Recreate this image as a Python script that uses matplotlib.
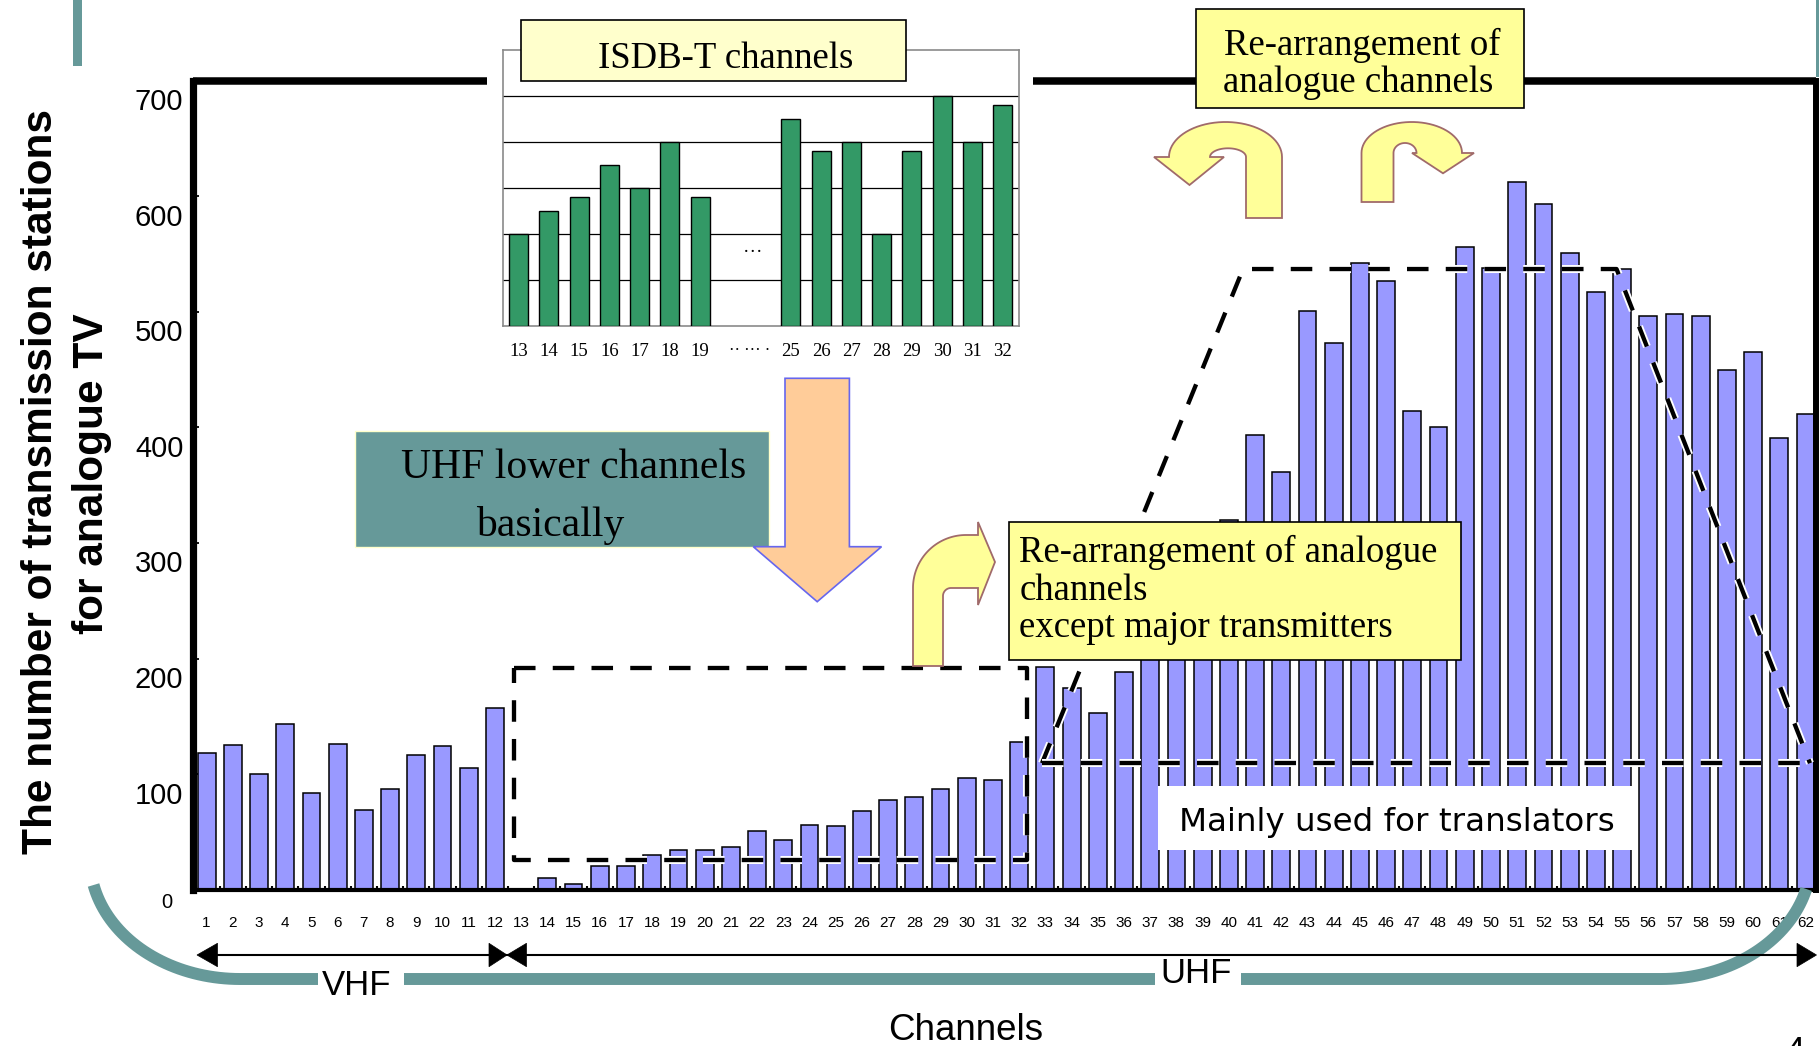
import numpy as np
import matplotlib
matplotlib.use("Agg")
import matplotlib.pyplot as plt
from matplotlib.patches import Rectangle, Polygon
import matplotlib.patheffects as pe
from matplotlib.transforms import ScaledTranslation

# ---------------- data ----------------
channels = list(range(1, 63))
stations = [118, 125, 100, 143, 84, 126, 69, 87, 117, 124, 105, 157,
            0, 10, 5, 21, 21, 30, 34, 34, 37, 51, 43, 56, 55, 68, 78, 80, 87, 97, 95, 128,
            193, 175, 153, 188, 250, 280, 300, 320, 393, 361, 501, 473, 542, 527, 414, 400,
            556, 538, 612, 593, 551, 517, 537, 496, 498, 496, 450, 465, 391, 412]
isdb_channels = [13, 14, 15, 16, 17, 18, 19, 25, 26, 27, 28, 29, 30, 31, 32]
isdb_values = [2.0, 2.5, 2.8, 3.5, 3.0, 4.0, 2.8, 4.5, 3.8, 4.0, 2.0, 3.8, 5.0, 4.0, 4.8]
yticks = [0, 100, 200, 300, 400, 500, 600, 700]
ytick_labels = ["", "100", "200", "300", "400", "500", "600", "700"]

# annotation regions (channel / station-count coordinates)
isdb_region_x = [12.74, 32.29]
isdb_region_y = [26, 192]
uhf_region_x = [32.87, 40.54, 54.79, 62.17]
uhf_region_y = [109.5, 537, 537, 109.5]

BAR = "#9999FF"
GREEN = "#339966"
TEAL = "#669999"
YEL = "#FFFF99"
SERIF = ["Liberation Serif", "DejaVu Serif"]
SANS = ["Liberation Sans", "DejaVu Sans"]
NARROW = ["Liberation Sans Narrow", "Liberation Sans", "DejaVu Sans"]

W, H = 1819, 1046
fig = plt.figure(figsize=(W / 100, H / 100), dpi=100)

# ---------------- main axes ----------------
x0, x1, ytop, ybot = 193.0, 1815.5, 80.6, 889.8
ax = fig.add_axes([x0 / W, (H - ybot) / H, (x1 - x0) / W, (ybot - ytop) / H], zorder=1)
ax.bar(channels, stations, width=0.68, color=BAR, edgecolor="black", linewidth=1.1, zorder=2)
ax.set_xlim(0.481, 62.38)
ax.set_ylim(0, 700)

ax.spines["top"].set_visible(False)
ax.spines["left"].set_linewidth(5.2)
ax.spines["right"].set_linewidth(4.3)
ax.spines["bottom"].set_linewidth(3.0)
for seg in ([0, 0.1812], [0.5177, 1.0]):
    ax.plot(seg, [1, 1], transform=ax.transAxes, color="black", lw=5.4,
            solid_capstyle="butt", clip_on=False, zorder=5)

ax.set_yticks(yticks)
ax.set_yticklabels(ytick_labels, fontfamily=SANS, fontsize=21)
ax.tick_params(axis="y", direction="in", length=4, width=1.3, pad=7)
offset = ScaledTranslation(0, -18.5 / 100, fig.dpi_scale_trans)
for t in ax.yaxis.get_major_ticks():
    t.label1.set_transform(t.label1.get_transform() + offset)

ax.set_xticks(channels)
ax.set_xticklabels([str(c) for c in channels], fontfamily=NARROW, fontsize=11)
ax.tick_params(axis="x", which="major", length=0, pad=19)
ax.set_xticks([c + 0.5 for c in range(0, 62)], minor=True)
ax.tick_params(axis="x", which="minor", direction="in", length=3, width=1.5)

dash_fx = [pe.Stroke(linewidth=5.8, foreground="white"), pe.Normal()]
rx = [isdb_region_x[0], isdb_region_x[1], isdb_region_x[1], isdb_region_x[0], isdb_region_x[0]]
ry = [isdb_region_y[1], isdb_region_y[1], isdb_region_y[0], isdb_region_y[0], isdb_region_y[1]]
ax.plot(rx, ry, color="black", lw=3.1, dashes=(5, 4), zorder=4, path_effects=dash_fx,
        dash_capstyle="butt")
ax.plot(uhf_region_x, uhf_region_y, color="black", lw=3.1, dashes=(5, 4), zorder=4,
        path_effects=dash_fx, dash_capstyle="butt")
ax.plot([uhf_region_x[0], uhf_region_x[-1]], [uhf_region_y[0], uhf_region_y[-1]],
        color="black", lw=3.1, dashes=(5, 4), zorder=4, path_effects=dash_fx,
        dash_capstyle="butt")

# ---------------- inset (ISDB-T) ----------------
ix0, ix1, iy0, iy1 = 503.2, 1019.3, 50.0, 326.0
ax2 = fig.add_axes([ix0 / W, (H - iy1) / H, (ix1 - ix0) / W, (iy1 - iy0) / H], zorder=2)
slots = [i + (2 if ch >= 25 else 0) for i, ch in enumerate(isdb_channels)]
ax2.bar(slots, isdb_values, width=0.63, color=GREEN, edgecolor="black", linewidth=1.0, zorder=3)
ax2.set_xlim(-0.51, 16.55)
ax2.set_ylim(0, 6)
ax2.set_yticks([1, 2, 3, 4, 5])
ax2.yaxis.grid(True, color="black", lw=0.9)
ax2.set_axisbelow(True)
ax2.tick_params(axis="y", left=False, labelleft=False)
ax2.set_xticks(slots)
ax2.set_xticklabels([str(c) for c in isdb_channels], fontfamily=SERIF, fontsize=13.5)
ax2.tick_params(axis="x", length=0, pad=12)
for s in ax2.spines.values():
    s.set_color("#8a8a8a")
    s.set_linewidth(1.2)

# ---------------- overlay (pixel coordinates) ----------------
ov = fig.add_axes([0, 0, 1, 1], zorder=3)
ov.set_xlim(0, W)
ov.set_ylim(H, 0)
ov.axis("off")
ov.patch.set_visible(False)


def arc(cx, cy, rxx, ryy, t0, t1, n=40):
    t = np.linspace(t0, t1, n)
    return list(zip(cx + rxx * np.cos(t), cy + ryy * np.sin(t)))


# teal slide decorations
ov.add_patch(Rectangle((73, 0), 8.7, 65.5, color=TEAL, lw=0, zorder=1))
ov.add_patch(Rectangle((1815.6, 0), 3.4, 77, color=TEAL, lw=0, zorder=1))
tl0 = np.pi - np.arcsin(26 / 120)
tr1 = np.arcsin(30 / 120)
teal = arc(240, 859, 150, 120, tl0, np.pi / 2) + arc(1661, 859, 150, 120, np.pi / 2, tr1)
tx, ty = zip(*teal)
ov.plot(tx, ty, color=TEAL, lw=8.6, solid_capstyle="butt", zorder=1)

# VHF / UHF arrows
ov.add_patch(Rectangle((318, 958), 86, 40, color="white", lw=0, zorder=2))
ov.add_patch(Rectangle((1155, 958), 86, 34, color="white", lw=0, zorder=2))
ov.plot([205, 1808], [955, 955], color="black", lw=1.5, zorder=3)
for tip, base in ((197, 217.5), (507, 489), (507, 526.5), (1816.5, 1797)):
    ov.add_patch(Polygon([(tip, 955), (base, 943.3), (base, 966.7)], closed=True,
                         fc="black", ec="black", lw=0.5, zorder=4))
ov.text(356.8, 995, "VHF", fontfamily=SANS, fontsize=25, ha="center", va="baseline", zorder=5)
ov.text(1196, 983, "UHF", fontfamily=SANS, fontsize=25, ha="center", va="baseline", zorder=5)

# axis titles and special labels
ov.text(966, 1040, "Channels", fontfamily=SANS, fontsize=26.5, ha="center", va="baseline")
ov.text(51.7, 481, "The number of transmission stations", fontfamily=SANS, fontweight="bold",
        fontsize=30.5, rotation=90, rotation_mode="anchor", ha="center", va="baseline")
ov.text(103.4, 474, "for analogue TV", fontfamily=SANS, fontweight="bold",
        fontsize=30.5, rotation=90, rotation_mode="anchor", ha="center", va="baseline")
ov.text(167, 902.5, "0", fontfamily=NARROW, fontsize=14.5, ha="center", va="center")
ov.text(1795, 1035, "4", fontfamily=SANS, fontsize=25, ha="center", va="top")

# inset annotations
ov.add_patch(Rectangle((521, 20), 384.7, 60.7, fc="#FFFFCC", ec="black", lw=1.2, zorder=3))
ov.text(725.5, 68.3, "ISDB-T channels", fontfamily=SERIF, fontsize=26.5, ha="center",
        va="baseline", zorder=4)
ov.text(753, 248, "\u2026", fontfamily=SERIF, fontsize=14, ha="center", va="center")
ov.text(750, 351, "\u00b7\u00b7 \u00b7\u00b7\u00b7 \u00b7", fontfamily=SERIF, fontsize=12,
        ha="center", va="center")

# top-right box and U-turn arrows
ov.add_patch(Rectangle((1196, 9.3), 328, 98.7, fc=YEL, ec="black", lw=1.2, zorder=3))
ov.text(1362, 55, "Re-arrangement of", fontfamily=SERIF, fontsize=26.5, ha="center",
        va="baseline", zorder=4)
ov.text(1358, 91.7, "analogue channels", fontfamily=SERIF, fontsize=26.5, ha="center",
        va="baseline", zorder=4)

ARROW_EC = "#A06A6A"
left_u = ([(1282, 218), (1282, 157)] + arc(1225.5, 157, 56.5, 35, 0, -np.pi)
          + [(1154, 157), (1189.5, 185), (1224, 157), (1210, 157)]
          + arc(1228, 157, 18, 8.7, -np.pi, 0) + [(1246, 218)])
ov.add_patch(Polygon(left_u, closed=True, fc=YEL, ec=ARROW_EC, lw=1.3, zorder=3))
right_u = ([(1361.5, 202), (1361.5, 153)] + arc(1411.75, 153, 50.25, 31, -np.pi, 0)
           + [(1474, 153), (1443, 173.3), (1412, 153), (1416.5, 153)]
           + arc(1405, 153, 11.5, 10, 0, -np.pi) + [(1393.5, 202)])
ov.add_patch(Polygon(right_u, closed=True, fc=YEL, ec=ARROW_EC, lw=1.3, zorder=3))

# small bent arrow
bent = ([(913, 666), (913, 588)] + arc(966, 588, 53, 53, np.pi, 1.5 * np.pi)
        + [(978, 535), (978, 522), (995, 562), (978, 605), (978, 588), (951, 588)]
        + arc(951, 596, 8, 8, 1.5 * np.pi, np.pi) + [(943, 666)])
ov.add_patch(Polygon(bent, closed=True, fc=YEL, ec=ARROW_EC, lw=1.3, zorder=3))

# lower yellow box
ov.add_patch(Rectangle((1009.4, 522), 451.4, 138.4, fc=YEL, ec="black", lw=1.2, zorder=3))
for txt, yb in (("Re-arrangement of analogue", 562), ("channels", 600),
                ("except major transmitters", 637.2)):
    ov.text(1019.3, yb, txt, fontfamily=SERIF, fontsize=26.5, ha="left", va="baseline", zorder=4)

# translators label
ov.add_patch(Rectangle((1157.8, 786), 477, 64.4, fc="white", ec="none", zorder=3))
ov.text(1179, 831, "Mainly used for translators", fontfamily=["DejaVu Sans"], fontsize=23.4,
        ha="left", va="baseline", zorder=4)

# UHF lower channels box
ov.add_patch(Rectangle((354.5, 431), 414.1, 116.3, fc=TEAL, ec="#FFFFCC", lw=1.0, zorder=3))
ov.text(574, 478.3, "UHF lower channels", fontfamily=SERIF, fontsize=30, ha="center",
        va="baseline", zorder=4)
ov.text(550, 535.7, "basically", fontfamily=SERIF, fontsize=30, ha="center",
        va="baseline", zorder=4)

# orange down arrow
down = [(785, 378.3), (849.4, 378.3), (849.4, 546.7), (881.5, 546.7), (817.2, 601.7),
        (753.3, 546.7), (785, 546.7)]
ov.add_patch(Polygon(down, closed=True, fc="#FFCC99", ec="#6666EE", lw=1.2, zorder=3))

fig.savefig("out.png", dpi=100)
